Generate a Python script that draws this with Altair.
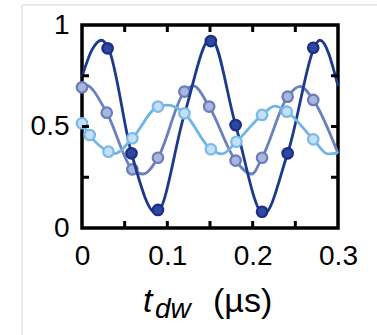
import altair as alt
import pandas as pd

# measured points
dark_pt_t = [0.03, 0.058, 0.089, 0.151, 0.18, 0.211, 0.241, 0.271]
dark_pt_y = [0.885, 0.368, 0.089, 0.921, 0.507, 0.08, 0.368, 0.888]

mid_pt_t = [0.0, 0.029, 0.059, 0.089, 0.12, 0.149, 0.18, 0.211, 0.241, 0.271]
mid_pt_y = [0.693, 0.568, 0.289, 0.346, 0.672, 0.598, 0.332, 0.346, 0.647, 0.631]

light_pt_t = [0.0, 0.009, 0.031, 0.059, 0.089, 0.12, 0.151, 0.181, 0.211, 0.24, 0.271]
light_pt_y = [0.516, 0.458, 0.376, 0.442, 0.598, 0.565, 0.388, 0.425, 0.557, 0.573, 0.437]

# fitted curves
dark_curve_t = [0, 0.012, 0.023, 0.031, 0.058, 0.087, 0.12, 0.151, 0.18, 0.213, 0.241, 0.279, 0.3]
dark_curve_y = [0.745, 0.88, 0.925, 0.885, 0.368, 0.072, 0.56, 0.935, 0.507, 0.068, 0.368, 0.925, 0.70]

mid_curve_t = [0, 0.004, 0.029, 0.059, 0.072, 0.089, 0.12, 0.1305, 0.149, 0.18, 0.199, 0.211, 0.241, 0.2555, 0.271, 0.3]
mid_curve_y = [0.70, 0.705, 0.568, 0.289, 0.266, 0.346, 0.672, 0.70, 0.598, 0.332, 0.266, 0.346, 0.647, 0.698, 0.631, 0.368]

light_curve_t = [0, 0.009, 0.031, 0.038, 0.059, 0.089, 0.101, 0.12, 0.151, 0.164, 0.181, 0.211, 0.226, 0.24, 0.271, 0.288, 0.3]
light_curve_y = [0.516, 0.458, 0.376, 0.366, 0.442, 0.598, 0.605, 0.565, 0.388, 0.365, 0.425, 0.557, 0.60, 0.573, 0.437, 0.365, 0.37]

x_tick_labels = [0, 0.1, 0.2, 0.3]
y_tick_labels = [0, 0.5, 1]
x_minor = [0.05, 0.1, 0.15, 0.2, 0.25]
y_minor = [0.25, 0.5, 0.75]

W, H = 256, 203
FONT = "Liberation Sans"

xs = alt.Scale(domain=[0, 0.3], nice=False, zero=False)
ys = alt.Scale(domain=[0, 1], nice=False)

xaxis = alt.Axis(values=x_tick_labels, format="~g", title="", domain=False, ticks=False,
                 grid=False, labelFont=FONT, labelFontSize=28, labelColor="black",
                 labelPadding=14, labelFlush=False)
yaxis = alt.Axis(values=y_tick_labels, format="~g", title="", domain=False, ticks=False,
                 grid=False, labelFont=FONT, labelFontSize=28, labelColor="black",
                 labelPadding=13, labelFlush=False)


def X(f):
    return alt.X(f, scale=xs, axis=xaxis)


def Y(f):
    return alt.Y(f, scale=ys, axis=yaxis)


def curve(t, y, color):
    df = pd.DataFrame({"t": t, "y": y})
    return alt.Chart(df).mark_line(color=color, strokeWidth=2.8, interpolate="monotone").encode(
        x=X("t:Q"), y=Y("y:Q"))


def pts(t, y, fill, stroke):
    df = pd.DataFrame({"t": t, "y": y})
    return alt.Chart(df).mark_circle(fill=fill, stroke=stroke, strokeWidth=2.2, opacity=1,
                                      fillOpacity=1, size=110).encode(
        x=X("t:Q"), y=Y("y:Q"))


mid_c = curve(mid_curve_t, mid_curve_y, "#6a80c0")
mid_p = pts(mid_pt_t, mid_pt_y, "#a9b6de", "#6a7cbc")
dark_c = curve(dark_curve_t, dark_curve_y, "#1b3a8c")
dark_p = pts(dark_pt_t, dark_pt_y, "#2e48a0", "#1a2e86")
light_c = curve(light_curve_t, light_curve_y, "#72b4e4")
light_p = pts(light_pt_t, light_pt_y, "#c2e0f7", "#7ab9e8")

xt = pd.DataFrame({"t": x_minor})
yt = pd.DataFrame({"y": y_minor})
tick_bot = alt.Chart(xt).mark_rule(color="black", strokeWidth=3).encode(
    x=X("t:Q"), y=alt.value(H), y2=alt.value(H - 7))
tick_top = alt.Chart(xt).mark_rule(color="black", strokeWidth=3).encode(
    x=X("t:Q"), y=alt.value(0), y2=alt.value(7))
tick_left = alt.Chart(yt).mark_rule(color="black", strokeWidth=3).encode(
    y=Y("y:Q"), x=alt.value(0), x2=alt.value(7))
tick_right = alt.Chart(yt).mark_rule(color="black", strokeWidth=3).encode(
    y=Y("y:Q"), x=alt.value(W), x2=alt.value(W - 7))

# axis title: t_dw (µs)
one = pd.DataFrame({"a": [0]})
t_main = alt.Chart(one).mark_text(text="t", font=FONT, fontSize=34, fontStyle="italic",
                                   align="left", baseline="alphabetic", color="black").encode(
    x=alt.value(61), y=alt.value(287))
t_sub = alt.Chart(one).mark_text(text="dw", font=FONT, fontSize=28, fontStyle="italic",
                                  align="left", baseline="alphabetic", color="black").encode(
    x=alt.value(73), y=alt.value(293))
t_unit = alt.Chart(one).mark_text(text="(µs)", font=FONT, fontSize=34,
                                   align="left", baseline="alphabetic", color="black").encode(
    x=alt.value(131), y=alt.value(287))

# light page border seen in the reference screenshot
border_top = alt.Chart(one).mark_rule(color="#e3e3e3", strokeWidth=1.5).encode(
    x=alt.value(-60), x2=alt.value(300), y=alt.value(-20))
border_left = alt.Chart(one).mark_rule(color="#e3e3e3", strokeWidth=1.5).encode(
    x=alt.value(-60), y=alt.value(-20), y2=alt.value(320))

chart = alt.layer(
    mid_c, mid_p, dark_c, dark_p, light_c, light_p,
    tick_bot, tick_top, tick_left, tick_right,
    t_main, t_sub, t_unit, border_top, border_left,
).properties(
    width=W, height=H,
    autosize=alt.AutoSizeParams(type="none"),
    padding={"left": 82, "top": 25, "right": 39, "bottom": 107},
).configure(
    background="white",
    view=alt.ViewConfig(stroke="black", strokeWidth=3.5),
)

chart.save("out.html", embed_options={"renderer": "svg", "actions": False})
